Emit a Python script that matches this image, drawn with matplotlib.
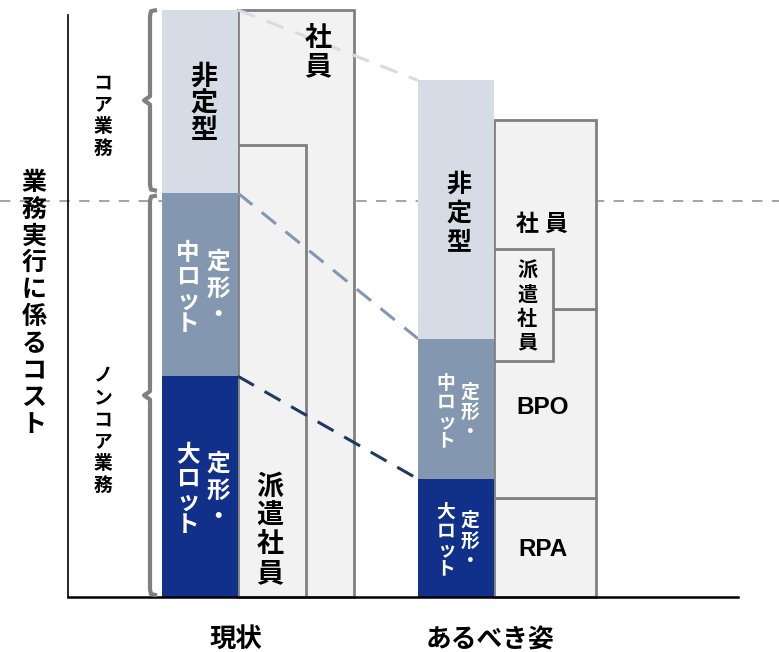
import matplotlib.pyplot as plt

plt.rcParams['font.family'] = ['Noto Sans CJK JP', 'DejaVu Sans']
plt.rcParams['font.weight'] = 'bold'

# work segments, bottom -> top (cost share, current total = 100)
tasks = ['定形・大ロット', '定形・中ロット', '非定型']
cost_now = [37.6, 31.2, 31.2]
cost_target = [20.1, 23.9, 44.0]
task_colors = ['#10308A', '#8497B0', '#D6DCE5']
link_colors = ['#203864', '#8497B0', '#D6DCE5']

# who does the work
now_shain = 100.0
now_haken = 77.0
target_res = ['RPA', 'BPO', '社員']
target_res_cost = [16.9, 32.2, 32.2]
target_haken = (40.2, 59.3)

core_line = 67.5
groups = ['現状', 'あるべき姿']

box_face = '#F2F2F2'
box_edge = '#808080'


def py(p):
    # pixel row -> data value
    return (597 - p) / 5.87


fig = plt.figure(figsize=(7.79, 6.52), dpi=100)
ax = fig.add_axes([68 / 779, 55 / 652, 670 / 779, 582 / 652])
ax.set_xlim(68, 738)
ax.set_ylim(0, 582 / 5.87)
ax.patch.set_alpha(0)
for s in ['top', 'right']:
    ax.spines[s].set_visible(False)
ax.spines['left'].set_linewidth(1.2)
ax.spines['bottom'].set_linewidth(1.8)
ax.set_xticks([])
ax.set_yticks([])

# core / non-core split line
ax.plot([0, 779], [core_line, core_line], ls=(0, (5, 4.5)), lw=1.5,
        color='#A6A6A6', clip_on=False, zorder=0.5)

bar_x = [162, 418]
bar_w = 76

# staff boxes, current
ax.bar(bar_x[0] + bar_w, now_shain, 116, align='edge', color=box_face,
       edgecolor=box_edge, lw=2, clip_on=False, zorder=1)
ax.bar(bar_x[0] + bar_w, now_haken, 68, align='edge', color=box_face,
       edgecolor=box_edge, lw=2, clip_on=False, zorder=1.1)

# resource boxes, target
bottom = 0
for v in target_res_cost:
    ax.bar(bar_x[1] + bar_w, v, 102, bottom=bottom, align='edge', color=box_face,
           edgecolor=box_edge, lw=2, clip_on=False, zorder=1)
    bottom += v
ax.bar(bar_x[1] + bar_w, target_haken[1] - target_haken[0], 59, bottom=target_haken[0],
       align='edge', color=box_face, edgecolor=box_edge, lw=2, clip_on=False, zorder=1.1)

# task bars
tops = []
for xi, vals in zip(bar_x, [cost_now, cost_target]):
    b = 0
    t = []
    for v, c in zip(vals, task_colors):
        ax.bar(xi, v, bar_w, bottom=b, align='edge', color=c, edgecolor='none',
               clip_on=False, zorder=2)
        t.append((b, b + v))
        b += v
    tops.append(t)

# dashed links between the bars
for i, c in enumerate(link_colors):
    ax.plot([bar_x[0] + bar_w, bar_x[1]], [tops[0][i][1], tops[1][i][1]],
            ls=(0, (6, 4)), lw=2.2, color=c, clip_on=False, zorder=1.5)


# braces
def brace(y0, y1, x=150):
    ym = (y0 + y1) / 2
    xs = [x + 7, x + 1, x, x, x - 6, x, x, x + 1, x + 7]
    ys = [y1, y1 - 0.2, y1 - 1, ym + 0.7, ym, ym - 0.7, y0 + 1, y0 + 0.2, y0]
    ax.plot(xs, ys, color=box_edge, lw=3, solid_joinstyle='round',
            solid_capstyle='butt', clip_on=False, zorder=3)


brace(tops[0][2][0] + 0.4, tops[0][2][1])
brace(0.3, tops[0][2][0] - 0.4)


def vtext(x, y0, step, s, size, color='black'):
    # vertical writing: one glyph per row, y0 = centre row of first glyph (px)
    em = size * 100 / 72
    for i, ch in enumerate(s):
        ax.text(x, py(y0 + i * step + 0.38 * em), ch, ha='center', va='baseline',
                fontsize=size, color=color, fontweight='bold', clip_on=False, zorder=4)


# current bar labels
vtext(204, 74, 27, '非定型', 19.5)
vtext(318, 36, 28, '社員', 19.5)
vtext(270, 484, 29, '派遣社員', 19.5)
vtext(188, 251, 23.7, '中ロット', 17, 'white')
vtext(218, 260, 26.5, '定形・', 17, 'white')
vtext(188, 453, 23.3, '大ロット', 17, 'white')
vtext(218, 462, 26.5, '定形・', 17, 'white')

# target bar labels
vtext(459, 182, 29, '非定型', 18)
ax.text(527, py(222 + 0.38 * 23), '社', fontsize=16.5, ha='center', va='baseline', zorder=4)
ax.text(556, py(222 + 0.38 * 23), '員', fontsize=16.5, ha='center', va='baseline', zorder=4)
vtext(527, 269, 24, '派遣社員', 14.5)
ax.text(543, py(408), target_res[1], fontsize=17.5, ha='center', va='center',
        family=['Liberation Sans', 'DejaVu Sans'], zorder=4)
ax.text(543, py(550), target_res[0], fontsize=17.5, ha='center', va='center',
        family=['Liberation Sans', 'DejaVu Sans'], zorder=4)
vtext(446, 382, 19, '中ロット', 13.5, 'white')
vtext(470, 391, 20, '定形・', 13.5, 'white')
vtext(446, 511, 18.7, '大ロット', 13.5, 'white')
vtext(470, 519, 20.5, '定形・', 13.5, 'white')

# side labels
vtext(103, 81, 22, 'コア業務', 13.5)
vtext(103, 374, 22, 'ノンコア業務', 13.5)
vtext(34, 180, 26.9, '業務実行に係るコスト', 18)

# group labels
ax.text(236, py(640), groups[0], fontsize=19, ha='center', va='center', clip_on=False)
ax.text(490, py(640), groups[1], fontsize=18.5, ha='center', va='center', clip_on=False)

plt.savefig('out.png', dpi=100)
